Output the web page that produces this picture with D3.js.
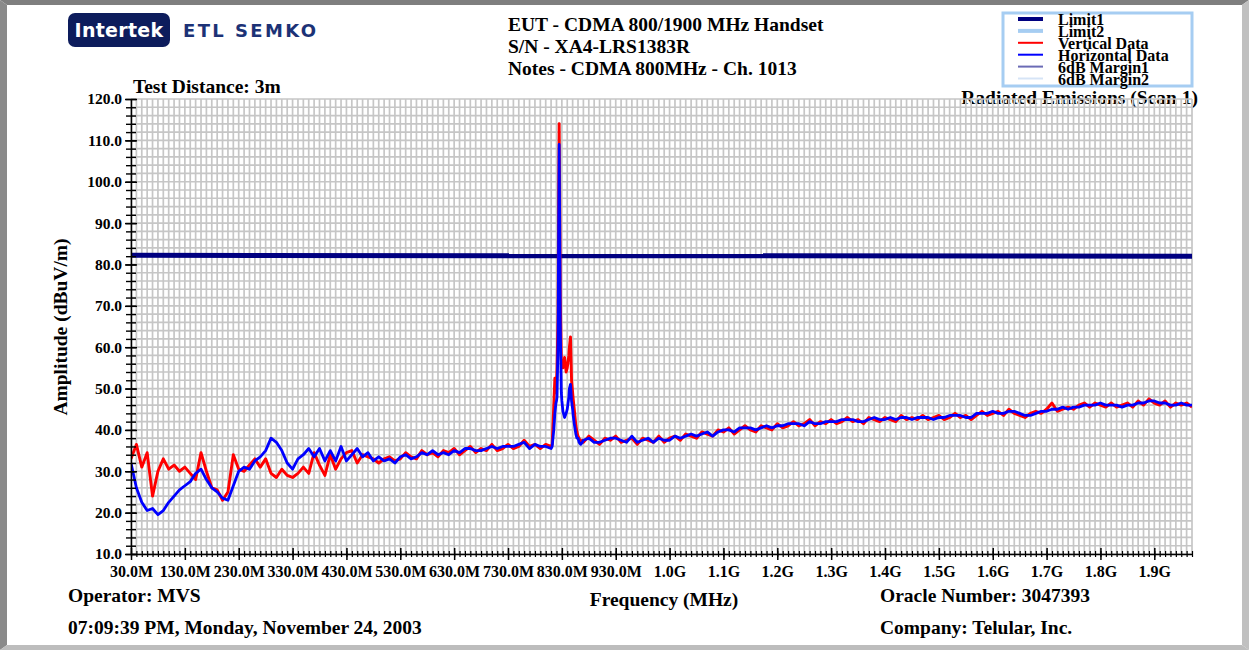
<!DOCTYPE html>
<html>
<head>
<meta charset="utf-8">
<script src="https://cdn.jsdelivr.net/npm/d3@7"></script>
<style>
  body { margin: 0; background: #fff; }
  svg { display: block; font-family: "Liberation Serif", "Times New Roman", serif; font-weight: bold; }
</style>
</head>
<body>
<svg width="1249" height="650"></svg>
<script>
// scan runs 30 MHz .. 2000 MHz in 10 MHz steps, values in dBuV/m
var scanFreqs = d3.range(30, 2001, 10);

var vertData = [
  33, 36.5, 31, 34.5, 24, 30, 33, 30.5, 31.5, 30,
  31, 29.5, 28, 34.5, 30, 26, 25.5, 23, 25, 34,
  30.5, 30, 31.5, 33, 31, 33, 29.5, 28.5, 30.5, 29,
  28.5, 29.5, 31, 29.5, 34.5, 31.5, 29, 34, 30.5, 33,
  34.5, 35, 32, 34, 33.5, 33, 32, 33, 33.5, 32.5,
  33, 34.5, 33.5, 33, 35, 34, 34.5, 33.5, 35, 34.5,
  35.5, 34, 35, 36, 34.5, 35.5, 35, 36.5, 35, 35.5,
  36.5, 35.5, 36, 37.5, 36, 36.5, 35.5, 36.5, 36, 51,
  56, 55, 49, 38.5, 37, 38.5, 37.5, 36.5, 38, 37.5,
  38.5, 37, 37.5, 38, 36.5, 38, 37.5, 37, 38.5, 37,
  38, 38.5, 37.5, 39, 38.5, 38, 39.5, 39, 38.5, 40,
  39.5, 40.5, 39, 40, 41, 40, 39.5, 41, 40.5, 40,
  41.5, 40.5, 41, 42, 41, 41.5, 42.5, 41, 42, 41.5,
  42.5, 41.5, 42, 43, 42, 42.5, 41.5, 43, 42.5, 42,
  43, 42.5, 42, 43.5, 42.5, 43, 42.5, 43.5, 42.5, 43,
  43.5, 42.5, 43, 44, 43, 43.5, 42.5, 43.5, 44.5, 43.5,
  44, 44.5, 43.5, 45, 44, 43.5, 43, 44, 44.5, 44,
  45, 46.5, 44.5, 45, 45.5, 45, 46, 46.5, 45.5, 46.5,
  46, 45.5, 46.5, 45.5, 46, 46.5, 45.5, 47, 46, 47.5,
  46.5, 46, 47, 45.5, 46.5, 46, 46.5, 45.5
];

var horzData = [
  32, 26, 22.5, 20.5, 21, 19.5, 20.5, 22.5, 24, 25.5,
  26.5, 27.5, 29.5, 30.5, 28, 26, 25, 23.5, 23, 26.5,
  30, 31, 30.5, 32.5, 33.5, 35, 38, 37, 35, 32,
  30.5, 33, 34, 35.5, 33.5, 35.5, 32.5, 35, 32.5, 36,
  32.5, 34, 35.5, 33.5, 34.5, 32.5, 33.5, 32.5, 33, 32,
  33.5, 34, 33, 33.5, 34.5, 34, 35, 34, 34.5, 34,
  35, 34.5, 35.5, 35.5, 35, 35, 35.5, 36, 35.5, 36,
  36, 36, 36.5, 37, 35.5, 36.5, 36, 36, 35.5, 47,
  47, 45, 45, 38, 37.5, 38, 37, 37, 37.5, 38,
  38, 37.5, 37, 38.5, 37, 37.5, 38, 37, 38, 37.5,
  37.5, 38.5, 38, 38.5, 39, 38.5, 39, 39.5, 38.5, 39.5,
  40, 40, 39.5, 40.5, 40.5, 40.5, 40, 40.5, 41, 40.5,
  41, 41, 41.5, 41.5, 41.5, 41, 42, 41.5, 41.5, 42,
  42, 42, 42.5, 42.5, 42.5, 42, 42, 42.5, 43, 42.5,
  42.5, 43, 42.5, 43, 43, 42.5, 43, 43, 43, 42.5,
  43, 43, 43.5, 43.5, 43.5, 43, 43, 44, 44, 44,
  44.5, 44, 44, 44.5, 44.5, 44, 43.5, 43.5, 44, 44.5,
  44.5, 45, 45, 45.5, 45, 45.5, 45.5, 46, 46, 46,
  46.5, 46, 46, 46, 45.5, 46, 46, 46.5, 46.5, 47,
  47, 46.5, 46.5, 46, 46, 46.5, 46, 46
];

// finer points around the carrier (CDMA ch. 1013, ~825 MHz)
var peakFreqs = [812, 815, 817, 819, 821, 823, 824, 825, 826, 827, 829, 832, 835, 838, 841, 843, 844, 846, 848, 851, 853, 856, 858, 862, 865, 868];
var peakVert  = [36.5, 46, 52.5, 49, 55, 68, 95, 114, 96, 72, 57, 55, 57.5, 54, 56, 58, 60, 62.5, 52, 47.5, 45, 41, 39.5, 38, 37, 37.5];
var peakHorz  = [36, 40, 44, 46.5, 48, 62, 88, 109, 90, 66, 49, 44.5, 43, 44, 46, 48, 50, 51, 47, 43.5, 41.5, 39, 38, 37, 36.5, 37];

var limitFreqs = [30, 2000];
var limit1 = [82.2, 82.0];

var yTicks = d3.range(10, 121, 10);
var xTicks = d3.range(30, 2000, 100);

var legendNames = ["Limit1", "Limit2", "Vertical Data", "Horizontal Data", "6dB Margin1", "6dB Margin2"];
var legendColors = ["#000080", "#a6cdf2", "#ff0000", "#0000ff", "#6b6bb5", "#d6e4f6"];
var legendWidths = [4, 4, 2, 2, 2, 2];

var titleLines = ["EUT - CDMA 800/1900 MHz Handset", "S/N - XA4-LRS1383R", "Notes - CDMA 800MHz - Ch. 1013"];

var svg = d3.select("svg"),
  W = +svg.attr("width"),
  H = +svg.attr("height");

var x = d3.scaleLinear().domain([30, 2000]).range([131, 1192]),
  y = d3.scaleLinear().domain([10, 120]).range([554, 99]);

function merge(base, peak) {
  var pts = scanFreqs.map(function(f, i) { return { f: f, v: base[i] }; });
  peakFreqs.forEach(function(f, i) { pts.push({ f: f, v: peak[i] }); });
  pts.sort(function(a, b) { return a.f - b.f; });
  return pts;
}

// frame
svg.append("rect").attr("width", W).attr("height", H).attr("fill", "#fff");
svg.append("polygon").attr("points", "0,0 " + W + ",0 " + (W - 7) + ",5 7,5").attr("fill", "#7f7f7f");
svg.append("polygon").attr("points", "0,0 7,5 7," + (H - 5) + " 0," + H).attr("fill", "#8a8a8a");
svg.append("polygon").attr("points", W + ",0 " + W + "," + H + " " + (W - 7) + "," + (H - 5) + " " + (W - 7) + ",5").attr("fill", "#c0c0c0");
svg.append("polygon").attr("points", "0," + H + " " + W + "," + H + " " + (W - 7) + "," + (H - 5) + " 7," + (H - 5)).attr("fill", "#bdbdbd");

// logo
svg.append("rect").attr("x", 68).attr("y", 13).attr("width", 102).attr("height", 34)
  .attr("rx", 7).attr("fill", "#0d1c5c");
svg.append("text").attr("x", 119).attr("y", 37).attr("text-anchor", "middle")
  .style("font-family", "'DejaVu Sans', Verdana, sans-serif").style("font-size", "19px")
  .style("letter-spacing", "0.3px")
  .attr("fill", "#fff").text("Intertek");
svg.append("text").attr("x", 183).attr("y", 37)
  .style("font-family", "'DejaVu Sans', Verdana, sans-serif").style("font-size", "18px")
  .style("letter-spacing", "2.4px").attr("fill", "#1c3276").text("ETL SEMKO");

// header texts
svg.selectAll(".title").data(titleLines).enter().append("text")
  .attr("class", "title")
  .attr("x", 508)
  .attr("y", function(d, i) { return 31 + i * 22; })
  .style("font-size", "19.5px")
  .text(function(d) { return d; });

svg.append("text").attr("x", 133).attr("y", 93).style("font-size", "19.5px").text("Test Distance: 3m");
svg.append("text").attr("x", 1198).attr("y", 104).attr("text-anchor", "end")
  .style("font-size", "19.5px").attr("fill", "#000").text("Radiated Emissions (Scan 1)");

// grid
var g = svg.append("g").attr("class", "grid");
g.selectAll(".vg").data(d3.range(30, 2001, 10)).enter().append("line")
  .attr("x1", function(d) { return x(d); }).attr("x2", function(d) { return x(d); })
  .attr("y1", y(120)).attr("y2", y(10))
  .attr("stroke", "#c6c6c6").attr("stroke-width", 1.7);
g.selectAll(".hg").data(d3.range(10, 121, 2)).enter().append("line")
  .attr("y1", function(d) { return y(d); }).attr("y2", function(d) { return y(d); })
  .attr("x1", x(30)).attr("x2", x(2000))
  .attr("stroke", "#c6c6c6").attr("stroke-width", 1.7);

// traces
svg.append("clipPath").attr("id", "clip").append("rect")
  .attr("x", x(30)).attr("y", y(120) - 2).attr("width", x(2000) - x(30)).attr("height", y(10) - y(120) + 2);

var line = d3.line()
  .x(function(d) { return x(d.f); })
  .y(function(d) { return y(d.v); });

var plot = svg.append("g").attr("clip-path", "url(#clip)");

plot.append("path")
  .datum(limitFreqs.map(function(f, i) { return { f: f, v: limit1[i] }; }))
  .attr("d", line).attr("fill", "none").attr("stroke", "#000080").attr("stroke-width", 5);

plot.append("path")
  .datum(merge(vertData, peakVert))
  .attr("d", line).attr("fill", "none").attr("stroke", "#ff0000").attr("stroke-width", 2.9)
  .attr("stroke-linejoin", "round");

plot.append("path")
  .datum(merge(horzData, peakHorz))
  .attr("d", line).attr("fill", "none").attr("stroke", "#0000ff").attr("stroke-width", 2.8)
  .attr("stroke-linejoin", "round");

// axes
function styleAxis(sel) {
  sel.attr("font-family", null).attr("font-size", null);
  sel.select(".domain").attr("stroke", "#000").attr("stroke-width", 1.5);
  sel.selectAll("text").style("font-size", "15.5px").attr("fill", "#000");
}

var yMinor = svg.append("g").attr("transform", "translate(" + x(30) + ",0)")
  .call(d3.axisLeft(y).tickValues(d3.range(10, 121, 2)).tickFormat("").tickSize(5).tickSizeOuter(0));
yMinor.select(".domain").remove();
yMinor.selectAll(".tick line").attr("x1", 5).attr("stroke-width", 1.4);

var yAxis = svg.append("g").attr("transform", "translate(" + x(30) + ",0)")
  .call(d3.axisLeft(y).tickValues(yTicks).tickFormat(d3.format(".1f")).tickSize(6).tickPadding(3).tickSizeOuter(0));
yAxis.call(styleAxis);
yAxis.selectAll(".tick line").attr("x1", 6).attr("stroke-width", 1.5);

var xMinor = svg.append("g").attr("transform", "translate(0," + y(10) + ")")
  .call(d3.axisBottom(x).tickValues(d3.range(30, 2001, 10)).tickFormat("").tickSize(3).tickSizeOuter(0));
xMinor.select(".domain").remove();
xMinor.selectAll(".tick line").attr("y1", -3).attr("stroke-width", 1.2);

var xAxis = svg.append("g").attr("transform", "translate(0," + y(10) + ")")
  .call(d3.axisBottom(x).tickValues(xTicks)
    .tickFormat(function(f) { return f < 1000 ? f.toFixed(1) + "M" : (f / 1000).toFixed(1) + "G"; })
    .tickSize(6).tickPadding(6).tickSizeOuter(0));
xAxis.call(styleAxis);
xAxis.selectAll("text").style("font-size", "16px");
xAxis.selectAll(".tick line").attr("y1", -6).attr("stroke-width", 1.5);

// axis titles and footer
svg.append("text").attr("x", 664).attr("y", 606).attr("text-anchor", "middle")
  .style("font-size", "19.5px").text("Frequency (MHz)");
svg.append("text").attr("transform", "translate(67,327) rotate(-90)").attr("text-anchor", "middle")
  .style("font-size", "19.5px").text("Amplitude (dBuV/m)");

svg.append("text").attr("x", 68).attr("y", 602).style("font-size", "19.5px").text("Operator: MVS");
svg.append("text").attr("x", 68).attr("y", 634).style("font-size", "19.5px").text("07:09:39 PM, Monday, November 24, 2003");
svg.append("text").attr("x", 880).attr("y", 602).style("font-size", "19.5px").text("Oracle Number: 3047393");
svg.append("text").attr("x", 880).attr("y", 634).style("font-size", "19.5px").text("Company: Telular, Inc.");

// legend
var lg = svg.append("g").attr("class", "legend");
lg.append("rect").attr("x", 1003).attr("y", 13).attr("width", 189).attr("height", 73)
  .attr("fill", "#fff").attr("stroke", "#a6cdf2").attr("stroke-width", 3);

var items = lg.selectAll(".item").data(legendNames).enter().append("g")
  .attr("class", "item")
  .attr("transform", function(d, i) { return "translate(0," + (19 + i * 11.9) + ")"; });

items.append("line").attr("x1", 1018).attr("x2", 1043)
  .attr("stroke", function(d, i) { return legendColors[i]; })
  .attr("stroke-width", function(d, i) { return legendWidths[i]; });

items.append("text").attr("x", 1058).attr("y", 6)
  .style("font-size", "16px")
  .text(function(d) { return d; });
</script>
</body>
</html>
